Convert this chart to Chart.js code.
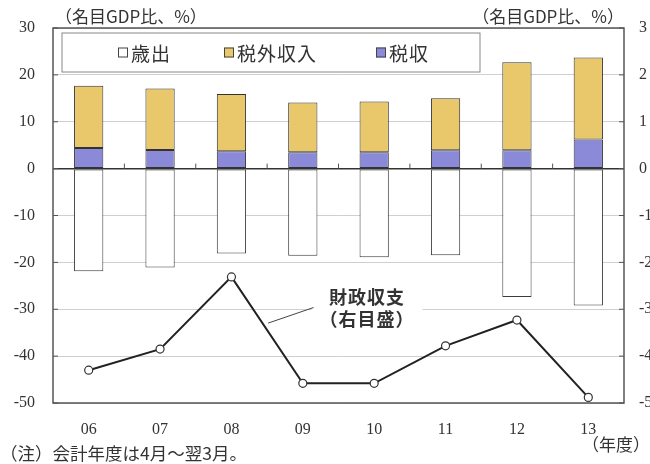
<!DOCTYPE html>
<html lang="ja">
<head>
<meta charset="utf-8">
<title>財政収支</title>
<script src="https://cdn.jsdelivr.net/npm/chart.js@4.4.1/dist/chart.umd.min.js"></script>
<style>
  html, body { margin: 0; padding: 0; background: #fff; }
  #wrap { width: 650px; height: 464px; }
</style>
</head>
<body>
<div id="wrap"><canvas id="chart" width="650" height="464"></canvas></div>
<script>
// 年度
const years = ["06", "07", "08", "09", "10", "11", "12", "13"];
// 歳出（名目GDP比、%）
const expenditure = [-21.9, -21.1, -18.1, -18.6, -18.9, -18.5, -27.4, -29.2];
// 税収
const taxRevenue = [4.4, 4.0, 3.7, 3.5, 3.5, 3.9, 3.9, 6.2];
// 税外収入（税収の上に積む）
const nonTaxRevenue = [13.3, 13.1, 12.2, 10.6, 10.8, 11.1, 18.8, 17.5];
// 財政収支（右目盛）
const fiscalBalance = [-4.30, -3.85, -2.31, -4.58, -4.58, -3.78, -3.23, -4.88];

const leftTicks = [30, 20, 10, 0, -10, -20, -30, -40, -50];
const rightTicks = [3, 2, 1, 0, -1, -2, -3, -4, -5];

const SERIF = '"Liberation Serif", "Times New Roman", serif';
const JP = '"Noto Sans CJK JP", "Noto Sans", sans-serif';
const TAX_COLOR = "#8a8ad8";
const NONTAX_COLOR = "#e9c86b";

function seg(ctx, x1, y1, x2, y2) {
  ctx.beginPath();
  ctx.moveTo(x1, y1);
  ctx.lineTo(x2, y2);
  ctx.stroke();
}

// frame, inner ticks, legend box, callout and notes
const decorations = {
  id: "decorations",
  afterDatasetsDraw(chart) {
    const { ctx, chartArea: a, scales } = chart;
    const x = scales.x, y = scales.y, y2 = scales.y2;
    ctx.save();

    ctx.strokeStyle = "#555";
    ctx.lineWidth = 1;
    leftTicks.forEach(v => {
      const py = y.getPixelForValue(v);
      seg(ctx, a.left, py, a.left + 5, py);
    });
    rightTicks.forEach(v => {
      const py = y2.getPixelForValue(v);
      seg(ctx, a.right - 5, py, a.right, py);
    });
    const y0 = y.getPixelForValue(0);
    for (let i = 0; i < years.length - 1; i++) {
      const px = (x.getPixelForValue(i) + x.getPixelForValue(i + 1)) / 2;
      seg(ctx, px, y0, px, y0 - 5);
    }

    ctx.lineWidth = 1.5;
    ctx.strokeRect(a.left, a.top, a.right - a.left, a.bottom - a.top);

    // legend
    const lx = a.left + 9, ly = a.top + 5, lw = 418, lh = 39;
    ctx.fillStyle = "#fff";
    ctx.fillRect(lx, ly, lw, lh);
    ctx.strokeStyle = "#888";
    ctx.lineWidth = 1;
    ctx.strokeRect(lx, ly, lw, lh);
    const items = [
      { text: "歳出", fill: "#fff", at: 118 },
      { text: "税外収入", fill: NONTAX_COLOR, at: 224 },
      { text: "税収", fill: TAX_COLOR, at: 376 }
    ];
    const cy = ly + lh / 2;
    ctx.font = "19px " + JP;
    ctx.letterSpacing = "1px";
    ctx.textBaseline = "middle";
    ctx.textAlign = "left";
    items.forEach(it => {
      ctx.fillStyle = it.fill;
      ctx.fillRect(it.at, cy - 5, 10, 10);
      ctx.strokeStyle = "#444";
      ctx.strokeRect(it.at + 0.5, cy - 4.5, 9, 9);
      ctx.fillStyle = "#333";
      ctx.fillText(it.text, it.at + 13, cy + 1);
    });

    // callout for the balance line
    const tx = x.getPixelForValue(3.9);
    const t1 = y2.getPixelForValue(-2.75), t2 = y2.getPixelForValue(-3.22);
    ctx.font = "bold 18px " + JP;
    const w = Math.max(ctx.measureText("財政収支").width, ctx.measureText("（右目盛）").width);
    ctx.fillStyle = "#fff";
    ctx.fillRect(tx - w / 2 - 8, t1 - 18, w + 16, t2 - t1 + 36);
    ctx.fillStyle = "#333";
    ctx.textAlign = "center";
    ctx.fillText("財政収支", tx, t1);
    ctx.fillText("（右目盛）", tx, t2);
    ctx.letterSpacing = "0px";
    const f = 0.5;
    const sx = x.getPixelForValue(2) + f * (x.getPixelForValue(3) - x.getPixelForValue(2));
    const sy = y2.getPixelForValue(fiscalBalance[2] + f * (fiscalBalance[3] - fiscalBalance[2]));
    ctx.strokeStyle = "#444";
    ctx.lineWidth = 1;
    seg(ctx, sx + 1, sy - 7, tx - w / 2 - 6, t1 + 10);

    // unit labels and notes
    ctx.fillStyle = "#333";
    ctx.font = "17px " + JP;
    ctx.textAlign = "left";
    ctx.fillText("（名目GDP比、%）", a.left + 2, 17);
    ctx.textAlign = "right";
    ctx.fillText("（名目GDP比、%）", a.right, 17);
    ctx.fillText("（年度）", 650, 445);
    ctx.font = "17.5px " + JP;
    ctx.textAlign = "left";
    ctx.fillText("（注）会計年度は4月～翌3月。", 0, 453);
    ctx.restore();
  }
};

const barBase = {
  type: "bar",
  borderColor: "#333",
  borderWidth: 1,
  borderSkipped: false,
  barPercentage: 0.41,
  categoryPercentage: 1,
  stack: "fiscal",
  yAxisID: "y",
  order: 1
};

new Chart(document.getElementById("chart"), {
  data: {
    labels: years,
    datasets: [
      { ...barBase, label: "歳出", data: expenditure, backgroundColor: "#fff", borderColor: "#3a3a3a" },
      { ...barBase, label: "税収", data: taxRevenue, backgroundColor: TAX_COLOR },
      { ...barBase, label: "税外収入", data: nonTaxRevenue, backgroundColor: NONTAX_COLOR },
      {
        type: "line",
        label: "財政収支",
        data: fiscalBalance,
        yAxisID: "y2",
        order: 0,
        borderColor: "#222",
        borderWidth: 2,
        tension: 0,
        pointRadius: 4,
        pointBackgroundColor: "#fff",
        pointBorderColor: "#333",
        pointBorderWidth: 1.2
      }
    ]
  },
  options: {
    responsive: false,
    animation: false,
    layout: { padding: { top: 28, left: 0, right: 0, bottom: 0 } },
    plugins: { legend: { display: false }, tooltip: { enabled: false } },
    scales: {
      x: {
        stacked: true,
        grid: { display: false },
        border: { display: false },
        ticks: { color: "#333", font: { family: SERIF, size: 16 }, padding: 9 },
        afterFit: s => { s.height = 61; }
      },
      y: {
        stacked: true,
        position: "left",
        min: -50,
        max: 30,
        afterBuildTicks: s => { s.ticks = leftTicks.map(v => ({ value: v })); },
        grid: {
          drawTicks: false,
          color: c => (c.tick.value === 0 ? "#333" : "#cfcfcf"),
          lineWidth: c => (c.tick.value === 0 ? 1.5 : 1)
        },
        border: { display: false },
        ticks: { color: "#333", font: { family: SERIF, size: 16 }, padding: 18 },
        afterFit: s => { s.width = 53; }
      },
      y2: {
        position: "right",
        min: -5,
        max: 3,
        afterBuildTicks: s => { s.ticks = rightTicks.map(v => ({ value: v })); },
        grid: { display: false, drawTicks: false },
        border: { display: false },
        ticks: { color: "#333", font: { family: SERIF, size: 16 }, padding: 15 },
        afterFit: s => { s.width = 26; }
      }
    }
  },
  plugins: [decorations]
});
</script>
</body>
</html>
